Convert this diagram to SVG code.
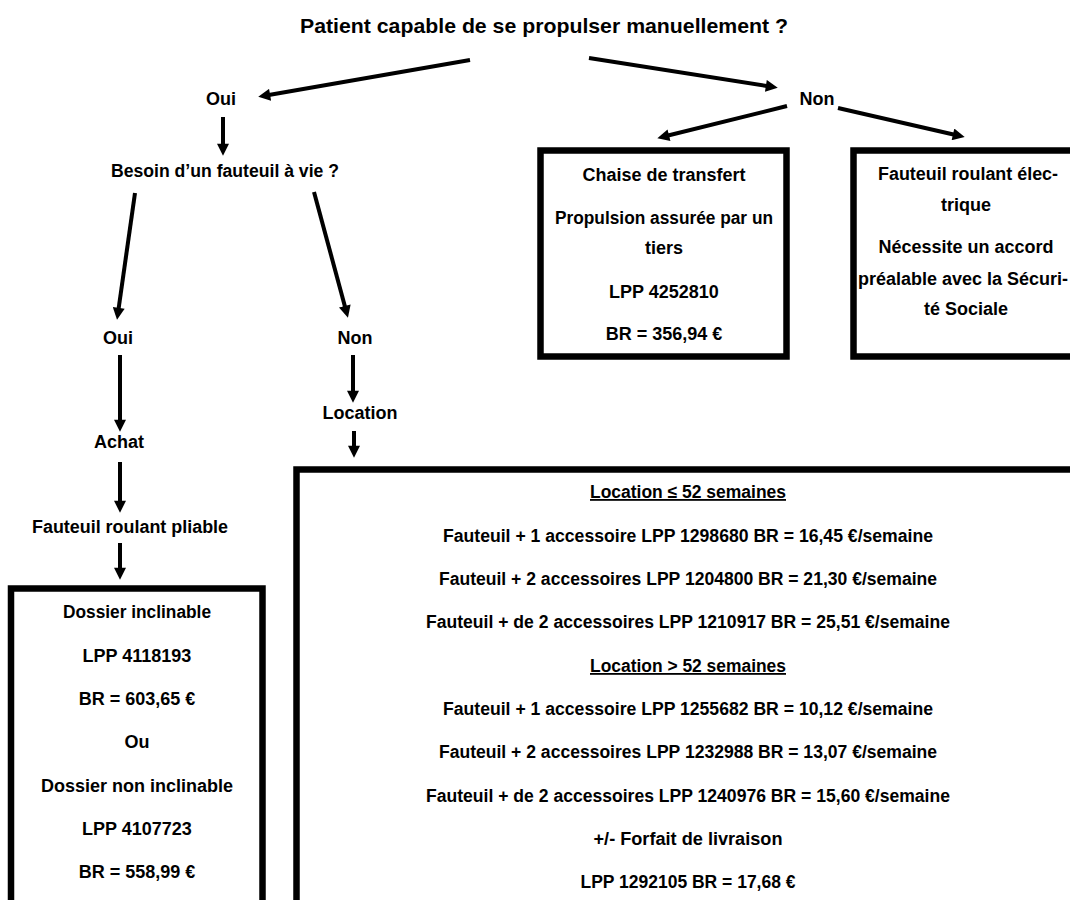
<svg xmlns="http://www.w3.org/2000/svg" width="1070" height="900" viewBox="0 0 1070 900">
  <style>
    text { font-family: "Liberation Sans", Arial, sans-serif; font-weight: bold; fill: #000; text-anchor: middle; font-size: 18px; }
    .title { font-size: 21px; }
    .box { fill: #fff; stroke: #000; stroke-width: 6.5; }
    .arrow { stroke: #000; stroke-width: 4; fill: none; marker-end: url(#ah); }
    .cond { font-size: 18px; }
    .ul { text-decoration: underline; }
  </style>
  <defs>
    <marker id="ah" viewBox="0 0 10 10" refX="6" refY="5" markerWidth="3.2" markerHeight="3" orient="auto" markerUnits="strokeWidth">
      <path d="M0,0 L10,5 L0,10 z" fill="#000"/>
    </marker>
  </defs>
  <rect width="1070" height="900" fill="#fff"/>

  <g id="connectors">
    <line class="arrow" x1="470" y1="60" x2="263" y2="96"/>
    <line class="arrow" x1="589" y1="58" x2="773" y2="87"/>
    <line class="arrow" x1="787" y1="106" x2="662" y2="137"/>
    <line class="arrow" x1="838" y1="108" x2="960" y2="136"/>
    <line class="arrow" x1="223" y1="117" x2="223" y2="151"/>
    <line class="arrow" x1="135" y1="193" x2="117.7" y2="315"/>
    <line class="arrow" x1="314" y1="192" x2="346.7" y2="313"/>
    <line class="arrow" x1="120" y1="355" x2="120" y2="427"/>
    <line class="arrow" x1="120" y1="462" x2="120" y2="508"/>
    <line class="arrow" x1="120" y1="543" x2="120" y2="575"/>
    <line class="arrow" x1="353" y1="355" x2="353" y2="398"/>
    <line class="arrow" x1="354" y1="431" x2="354" y2="453"/>
  </g>

  <g id="question1">
    <text class="title" x="544" y="33" textLength="488" lengthAdjust="spacingAndGlyphs">Patient capable de se propulser manuellement ?</text>
  </g>
  <g id="oui1">
    <text x="221" y="105">Oui</text>
  </g>
  <g id="non1">
    <text x="817" y="105">Non</text>
  </g>
  <g id="question2">
    <text x="225" y="177" textLength="228" lengthAdjust="spacingAndGlyphs">Besoin d’un fauteuil à vie ?</text>
  </g>
  <g id="chaise">
    <rect class="box" x="540.5" y="150.5" width="246" height="206"/>
    <text x="664" y="181">Chaise de transfert</text>
    <text x="664" y="224" textLength="218" lengthAdjust="spacingAndGlyphs">Propulsion assurée par un</text>
    <text x="664" y="254">tiers</text>
    <text x="664" y="298">LPP 4252810</text>
    <text x="664" y="340">BR = 356,94 €</text>
  </g>
  <g id="electrique">
    <rect class="box" x="853.5" y="150.5" width="250" height="206"/>
    <text x="968" y="180" textLength="180" lengthAdjust="spacingAndGlyphs">Fauteuil roulant élec-</text>
    <text x="966" y="211">trique</text>
    <text x="966" y="253">Nécessite un accord</text>
    <text x="963" y="285" textLength="210" lengthAdjust="spacingAndGlyphs">préalable avec la Sécuri-</text>
    <text x="966" y="315">té Sociale</text>
  </g>
  <g id="oui2">
    <text x="118" y="344">Oui</text>
  </g>
  <g id="non2">
    <text x="355" y="344">Non</text>
  </g>
  <g id="achat">
    <text x="119" y="448">Achat</text>
  </g>
  <g id="location">
    <text x="360" y="419">Location</text>
  </g>
  <g id="pliable">
    <text x="130" y="533" textLength="196" lengthAdjust="spacingAndGlyphs">Fauteuil roulant pliable</text>
  </g>
  <g id="achat-box">
    <rect class="box" x="11" y="588.5" width="251.5" height="340"/>
    <text x="137" y="618" textLength="148" lengthAdjust="spacingAndGlyphs">Dossier inclinable</text>
    <text x="137" y="662">LPP 4118193</text>
    <text x="137" y="705">BR = 603,65 €</text>
    <text x="137" y="748">Ou</text>
    <text x="137" y="792">Dossier non inclinable</text>
    <text x="137" y="835">LPP 4107723</text>
    <text x="137" y="878">BR = 558,99 €</text>
  </g>
  <g id="location-box">
    <rect class="box" x="296.5" y="469.5" width="820" height="500"/>
    <text class="cond ul" x="688" y="498" textLength="196" lengthAdjust="spacingAndGlyphs">Location ≤ 52 semaines</text>
    <text class="cond" x="688" y="542" textLength="490" lengthAdjust="spacingAndGlyphs">Fauteuil + 1 accessoire LPP 1298680 BR = 16,45 €/semaine</text>
    <text class="cond" x="688" y="585" textLength="498" lengthAdjust="spacingAndGlyphs">Fauteuil + 2 accessoires LPP 1204800 BR = 21,30 €/semaine</text>
    <text class="cond" x="688" y="628" textLength="524" lengthAdjust="spacingAndGlyphs">Fauteuil + de 2 accessoires LPP 1210917 BR = 25,51 €/semaine</text>
    <text class="cond ul" x="688" y="672" textLength="196" lengthAdjust="spacingAndGlyphs">Location &gt; 52 semaines</text>
    <text class="cond" x="688" y="715" textLength="490" lengthAdjust="spacingAndGlyphs">Fauteuil + 1 accessoire LPP 1255682 BR = 10,12 €/semaine</text>
    <text class="cond" x="688" y="758" textLength="498" lengthAdjust="spacingAndGlyphs">Fauteuil + 2 accessoires LPP 1232988 BR = 13,07 €/semaine</text>
    <text class="cond" x="688" y="802" textLength="524" lengthAdjust="spacingAndGlyphs">Fauteuil + de 2 accessoires LPP 1240976 BR = 15,60 €/semaine</text>
    <text class="cond" x="688" y="845" textLength="189" lengthAdjust="spacingAndGlyphs">+/- Forfait de livraison</text>
    <text class="cond" x="688" y="888" textLength="215" lengthAdjust="spacingAndGlyphs">LPP 1292105 BR = 17,68 €</text>
  </g>
</svg>
